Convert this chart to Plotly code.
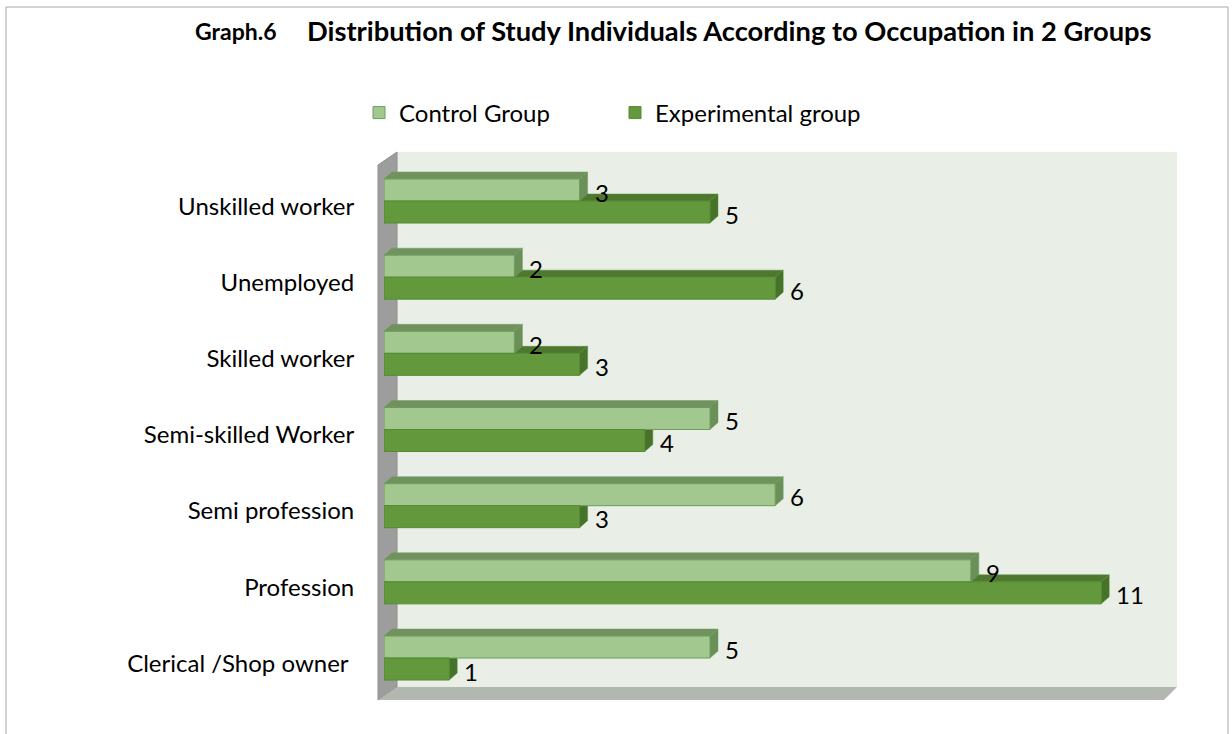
import plotly.graph_objects as go

# Dados do gráfico (de cima para baixo)
categorias = ["Unskilled worker", "Unemployed", "Skilled worker", "Semi-skilled Worker",
              "Semi profession", "Profession", "Clerical /Shop owner "]
controle = [3, 2, 2, 5, 6, 9, 5]
experimental = [5, 6, 3, 4, 3, 11, 1]
grupos = ["Control Group", "Experimental group"]

# Cores
cor_ctrl = "#A2C78F"
cor_ctrl_borda = "#6C9E58"
cor_ctrl_topo = "#71925F"
cor_ctrl_lado = "#6A8F58"
cor_exp = "#63993C"
cor_exp_borda = "#558A32"
cor_exp_topo = "#4E7830"
cor_exp_lado = "#46722A"
fonte = "Lato"
tam = 24

# Geometria (pixels)
W, H = 1232, 734
L, R, T, B = 384, 1177, 152, 700
px_por_un = 65.2
px_por_cat = 76.17
xmax = (R - L) / px_por_un
y_topo = -(201 - T) / px_por_cat
y_base = y_topo + (B - T) / px_por_cat
meia = 44 / px_por_cat / 2
dx = 8 / px_por_un
dy = 7 / px_por_cat

posicoes = list(range(len(categorias)))


def px_x(px):
    return (px - L) / (R - L)


def px_y(py):
    return (B - py) / (B - T)


def caminho(pts):
    return "M " + " L ".join(f"{a},{b}" for a, b in pts) + " Z"


fig = go.Figure()

fig.add_trace(go.Bar(
    y=posicoes, x=controle, name=grupos[0], orientation="h",
    marker=dict(color=cor_ctrl, line=dict(color=cor_ctrl_borda, width=1)),
    hoverinfo="x+name"
))
fig.add_trace(go.Bar(
    y=posicoes, x=experimental, name=grupos[1], orientation="h",
    marker=dict(color=cor_exp, line=dict(color=cor_exp_borda, width=1)),
    hoverinfo="x+name"
))

formas = []

# Parede do fundo, parede lateral e piso (efeito 3D)
formas.append(dict(type="rect", xref="paper", yref="paper", layer="below",
                   x0=px_x(397), x1=px_x(1177), y0=px_y(687), y1=px_y(152),
                   fillcolor="#E9EEE6", line=dict(width=0)))
formas.append(dict(type="path", xref="paper", yref="paper", layer="below",
                   path=caminho([(px_x(378), px_y(165)), (px_x(397), px_y(152)),
                                 (px_x(397), px_y(687)), (px_x(378), px_y(700))]),
                   fillcolor="#9C9D9C", line=dict(color="#8E8F8E", width=1)))
formas.append(dict(type="path", xref="paper", yref="paper", layer="below",
                   path=caminho([(px_x(378), px_y(700)), (px_x(397), px_y(687)),
                                 (px_x(1177), px_y(687)), (px_x(1164), px_y(700))]),
                   fillcolor="#B2B7B0", line=dict(width=0)))

# Faces de profundidade das barras
for i, (vc, ve) in enumerate(zip(controle, experimental)):
    formas.append(dict(type="path", xref="x", yref="y", layer="below",
                       path=caminho([(0, i), (ve, i), (ve + dx, i - dy), (dx, i - dy)]),
                       fillcolor=cor_exp_topo, line=dict(color=cor_exp_borda, width=0.5)))
    formas.append(dict(type="path", xref="x", yref="y", layer="below",
                       path=caminho([(ve, i), (ve + dx, i - dy), (ve + dx, i + meia - dy), (ve, i + meia)]),
                       fillcolor=cor_exp_lado, line=dict(color=cor_exp_borda, width=0.5)))
    formas.append(dict(type="path", xref="x", yref="y", layer="below",
                       path=caminho([(0, i - meia), (vc, i - meia), (vc + dx, i - meia - dy), (dx, i - meia - dy)]),
                       fillcolor=cor_ctrl_topo, line=dict(color=cor_ctrl_borda, width=0.5)))
    formas.append(dict(type="path", xref="x", yref="y", layer="below",
                       path=caminho([(vc, i - meia), (vc + dx, i - meia - dy), (vc + dx, i - dy), (vc, i)]),
                       fillcolor=cor_ctrl_lado, line=dict(color=cor_ctrl_borda, width=0.5)))

# Moldura do gráfico
formas.append(dict(type="rect", xref="paper", yref="paper", layer="above",
                   x0=px_x(6), x1=px_x(1228), y0=px_y(745), y1=px_y(7),
                   fillcolor="rgba(0,0,0,0)", line=dict(color="#A6A6A6", width=1)))

anotacoes = []
for i, (vc, ve) in enumerate(zip(controle, experimental)):
    anotacoes.append(dict(x=vc, y=i - meia / 2, xref="x", yref="y", text=str(vc),
                          showarrow=False, xanchor="left", xshift=13, yshift=-2,
                          font=dict(family=fonte, size=tam, color="black")))
    anotacoes.append(dict(x=ve, y=i + meia / 2, xref="x", yref="y", text=str(ve),
                          showarrow=False, xanchor="left", xshift=13, yshift=-2,
                          font=dict(family=fonte, size=tam, color="black")))

# Título
anotacoes.append(dict(x=px_x(193), y=px_y(31), xref="paper", yref="paper",
                      text="<b>Graph.6</b>", showarrow=False, xanchor="left", yanchor="middle",
                      font=dict(family=fonte, size=23, color="black")))
anotacoes.append(dict(x=px_x(305), y=px_y(31), xref="paper", yref="paper",
                      text="<b>Distribution of Study Individuals According to Occupation in 2 Groups</b>",
                      showarrow=False, xanchor="left", yanchor="middle",
                      font=dict(family=fonte, size=27.3, color="black")))

fig.update_layout(
    width=W, height=H,
    margin=dict(l=L, r=W - R, t=T, b=H - B),
    paper_bgcolor="white",
    plot_bgcolor="rgba(0,0,0,0)",
    barmode="group",
    bargap=1 - 2 * meia,
    bargroupgap=0,
    shapes=formas,
    annotations=anotacoes,
    legend=dict(
        orientation="h", x=px_x(359), y=px_y(113), xanchor="left", yanchor="middle",
        font=dict(family=fonte, size=tam, color="black"),
        entrywidth=211, entrywidthmode="pixels", bgcolor="rgba(0,0,0,0)"
    ),
    xaxis=dict(range=[0, xmax], showgrid=False, zeroline=False, showticklabels=False,
               showline=False, fixedrange=True),
    yaxis=dict(range=[y_base, y_topo], tickvals=[p + 0.07 for p in posicoes], ticktext=categorias,
               showgrid=False, zeroline=False, showline=False,
               ticks="outside", ticklen=24, tickcolor="rgba(0,0,0,0)",
               tickfont=dict(family=fonte, size=tam, color="black"), fixedrange=True),
    font=dict(family=fonte),
)

fig.write_html("out.html", config={"displayModeBar": False},
               post_script="document.body.style.margin='0';")
